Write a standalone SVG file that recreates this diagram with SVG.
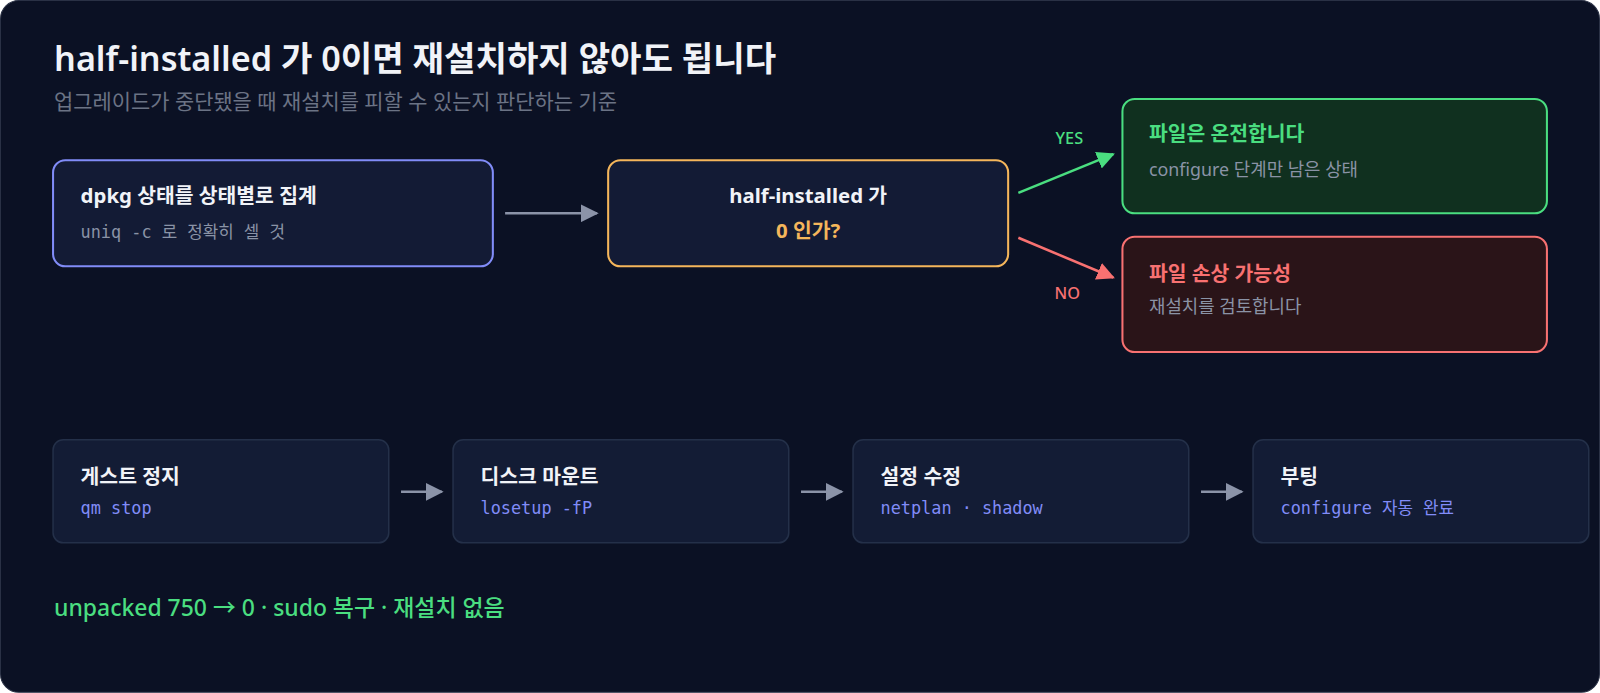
<svg xmlns="http://www.w3.org/2000/svg" width="1600" height="693" viewBox="0 0 1600 693">
<defs>
<style>
text{font-family:"Noto Sans","Noto Sans CJK KR",sans-serif}
.t{font-size:20px;font-weight:700;fill:#f1f3f8}
.s{font-size:17.5px;fill:#8a93a6}
.m{font-family:"DejaVu Sans Mono","Noto Sans CJK KR",monospace;font-size:16.5px}
.sb rect{fill:#131c35;stroke:#243049;stroke-width:1.5}
</style>
<marker id="ag" viewBox="0 0 10 10" refX="9" refY="5" markerWidth="7" markerHeight="7" orient="auto"><path d="M0,0L10,5L0,10z" fill="#8b93a8"/></marker>
<marker id="ay" viewBox="0 0 10 10" refX="9" refY="5" markerWidth="7" markerHeight="7" orient="auto"><path d="M0,0L10,5L0,10z" fill="#4ade80"/></marker>
<marker id="an" viewBox="0 0 10 10" refX="9" refY="5" markerWidth="7" markerHeight="7" orient="auto"><path d="M0,0L10,5L0,10z" fill="#f87171"/></marker>
</defs>
<rect width="1600" height="693" fill="#ffffff"/>
<g transform="scale(1.0204)">
<rect x="0.5" y="0.5" width="1567" height="678" rx="18" fill="#0b1124" stroke="#2a3145"/>
<text x="53" y="70" font-size="33.5" font-weight="600" fill="#f1f3f8">half-installed 가 0이면 재설치하지 않아도 됩니다</text>
<text x="53" y="107" font-size="20.5" fill="#6b7385">업그레이드가 중단됐을 때 재설치를 피할 수 있는지 판단하는 기준</text>
<g id="n-dpkg"><rect x="52" y="157" width="431" height="104" rx="12" fill="#131b35" stroke="#818cf8" stroke-width="2"/>
<text class="t" x="79" y="199">dpkg 상태를 상태별로 집계</text>
<text class="s m" x="79" y="233">uniq -c 로 정확히 셀 것</text></g>
<g id="n-decision"><rect x="596" y="157" width="392" height="104" rx="12" fill="#131b35" stroke="#f5b65b" stroke-width="2"/>
<text class="t" x="792" y="199" text-anchor="middle" font-weight="500">half-installed 가</text>
<text x="792" y="233" text-anchor="middle" font-size="20" font-weight="700" fill="#f5b65b">0 인가?</text></g>
<g id="n-yes"><rect x="1100" y="97" width="416" height="112" rx="12" fill="#10301f" stroke="#4ade80" stroke-width="2"/>
<text class="t" x="1126" y="138" style="fill:#4ade80">파일은 온전합니다</text>
<text class="s" x="1126" y="172">configure 단계만 남은 상태</text></g>
<g id="n-no"><rect x="1100" y="232" width="416" height="113" rx="12" fill="#2a1418" stroke="#f87171" stroke-width="2"/>
<text class="t" x="1126" y="275" style="fill:#f87171">파일 손상 가능성</text>
<text class="s" x="1126" y="307">재설치를 검토합니다</text></g>
<g id="n-stop" class="sb"><rect x="52" y="431" width="329" height="101" rx="10"/>
<text class="t" x="79" y="474">게스트 정지</text><text class="m" x="79" y="504" fill="#818cf8">qm stop</text></g>
<g id="n-mount" class="sb"><rect x="444" y="431" width="329" height="101" rx="10"/>
<text class="t" x="471" y="474">디스크 마운트</text><text class="m" x="471" y="504" fill="#818cf8">losetup -fP</text></g>
<g id="n-edit" class="sb"><rect x="836" y="431" width="329" height="101" rx="10"/>
<text class="t" x="863" y="474">설정 수정</text><text class="m" x="863" y="504" fill="#818cf8">netplan · shadow</text></g>
<g id="n-boot" class="sb"><rect x="1228" y="431" width="329" height="101" rx="10"/>
<text class="t" x="1255" y="474">부팅</text><text class="m" x="1255" y="504" fill="#818cf8">configure 자동 완료</text></g>
<g id="connectors" stroke-width="2.5" fill="none">
<line x1="495" y1="209" x2="585" y2="209" stroke="#8b93a8" marker-end="url(#ag)"/>
<line x1="998" y1="189" x2="1091" y2="151" stroke="#4ade80" marker-end="url(#ay)"/>
<line x1="998" y1="233" x2="1091" y2="272" stroke="#f87171" marker-end="url(#an)"/>
<line x1="393" y1="482" x2="433" y2="482" stroke="#8b93a8" marker-end="url(#ag)"/>
<line x1="785" y1="482" x2="825" y2="482" stroke="#8b93a8" marker-end="url(#ag)"/>
<line x1="1177" y1="482" x2="1217" y2="482" stroke="#8b93a8" marker-end="url(#ag)"/>
</g>
<text x="1048" y="141" text-anchor="middle" font-size="16" font-weight="500" fill="#4ade80">YES</text>
<text x="1046" y="293" text-anchor="middle" font-size="16" font-weight="500" fill="#f87171">NO</text>
<text x="53" y="604" font-size="22.5" font-weight="500" fill="#4ade80">unpacked 750 → 0 · sudo 복구 · 재설치 없음</text>
</g>
</svg>
